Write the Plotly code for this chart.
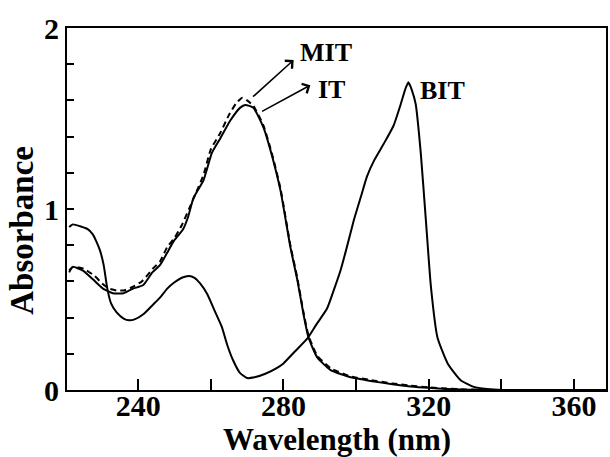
import plotly.graph_objects as go

# Wavelength (nm) / absorbance
wl_bit = [221, 222, 224, 226, 227.5, 228.5, 229.5, 230.5, 231.5, 232.5, 234, 236, 237.5, 239, 241.5, 244, 246, 248, 250, 252,
          254, 255.5, 257, 259, 261, 263, 264.5, 266, 268, 270, 272, 275, 278, 280, 283, 286.6, 289, 292, 294, 295.7,
          297.2, 299.4, 301.5, 303, 305, 307.6, 310.3, 312.3, 313.5, 314.4, 315.3, 316.4, 317.8, 319.2, 320.6, 322.4,
          325.2, 328.8, 332.4, 336, 340, 369]
a_bit = [0.90, 0.915, 0.905, 0.89, 0.86, 0.82, 0.77, 0.69, 0.56, 0.48, 0.43, 0.395, 0.385, 0.39, 0.42, 0.47, 0.51, 0.56, 0.595, 0.62,
         0.63, 0.62, 0.59, 0.53, 0.44, 0.35, 0.25, 0.17, 0.095, 0.066, 0.07, 0.09, 0.12, 0.147, 0.21, 0.285, 0.36, 0.45, 0.56, 0.66,
         0.77, 0.94, 1.08, 1.18, 1.27, 1.36, 1.46, 1.58, 1.66, 1.70, 1.66, 1.58, 1.31, 0.94, 0.57, 0.29,
         0.147, 0.054, 0.017, 0.005, 0.0, 0.0]

wl_it = [221, 222, 224.8, 227.6, 230.3, 233, 236, 238.6, 241.4, 243.9, 246, 248.3, 249.7, 252.4, 253.8, 255.2, 258, 260.3, 262.6, 265.4,
         268.1, 269.5, 271.7, 274.5, 276.9, 279.2, 281.9, 283.8, 285.5, 286.9, 289.3, 293, 298.5, 304, 310, 315, 320, 325, 330, 340, 369]
a_it = [0.65, 0.68, 0.66, 0.61, 0.56, 0.535, 0.535, 0.56, 0.58, 0.65, 0.69, 0.77, 0.82, 0.89, 0.96, 1.06, 1.16, 1.31, 1.39, 1.49,
        1.56, 1.575, 1.56, 1.45, 1.29, 1.10, 0.79, 0.61, 0.42, 0.29, 0.18, 0.11, 0.07, 0.05, 0.032, 0.02, 0.012, 0.006, 0.002, 0.0, 0.0]

wl_mit = [221, 222, 225, 228, 230, 232, 234, 236, 238, 241, 244, 246, 248, 250, 252, 254, 255.5, 258, 260, 262.6,
          265, 267, 268.7, 270, 271.7, 274.5, 276.9, 279.2, 281.9, 283.8, 285.5, 286.9, 289.3, 293, 298.5, 304, 310, 315, 320, 325,
          330, 340, 369]
a_mit = [0.66, 0.68, 0.67, 0.63, 0.59, 0.56, 0.55, 0.55, 0.565, 0.60, 0.67, 0.71, 0.79, 0.84, 0.91, 1.00, 1.07, 1.19, 1.33, 1.42,
         1.52, 1.585, 1.615, 1.60, 1.57, 1.46, 1.30, 1.11, 0.80, 0.62, 0.43, 0.30, 0.19, 0.12, 0.075, 0.055, 0.036, 0.024, 0.015, 0.008,
         0.003, 0.0, 0.0]

x_tickvals = [240, 260, 280, 300, 320, 340, 360]
x_ticktext = ["240", "", "280", "", "320", "", "360"]
y_tickvals = [0, 0.2, 0.4, 0.6, 0.8, 1.0, 1.2, 1.4, 1.6, 1.8, 2.0]
y_ticktext = ["0", "", "", "", "", "1", "", "", "", "", "2"]

FONT = "Liberation Serif, Times New Roman, Times, serif"

fig = go.Figure()
line_kw = dict(color="black", width=2, shape="spline", smoothing=0.5)
fig.add_trace(go.Scatter(x=wl_bit, y=a_bit, mode="lines", line=line_kw, name="BIT"))
fig.add_trace(go.Scatter(x=wl_mit, y=a_mit, mode="lines", line=dict(line_kw, dash="6px,4px"), name="MIT"))
fig.add_trace(go.Scatter(x=wl_it, y=a_it, mode="lines", line=line_kw, name="IT"))

# arrows
fig.add_annotation(x=282.8, y=1.823, ax=271.2, ay=1.613, axref="x", ayref="y", xref="x", yref="y",
                   text="", showarrow=True, arrowhead=4, arrowsize=1.3, arrowwidth=1.6, arrowcolor="black")
fig.add_annotation(x=287.4, y=1.684, ax=273.7, ay=1.535, axref="x", ayref="y", xref="x", yref="y",
                   text="", showarrow=True, arrowhead=4, arrowsize=1.3, arrowwidth=1.6, arrowcolor="black")
lab_font = dict(family=FONT, size=26, color="black", weight="bold")
fig.add_annotation(x=291.6, y=1.865, text="MIT", showarrow=False, font=lab_font)
fig.add_annotation(x=293.2, y=1.66, text="IT", showarrow=False, font=lab_font)
fig.add_annotation(x=323.9, y=1.657, text="BIT", showarrow=False, font=lab_font)

# axis titles
title_font = dict(family=FONT, size=31, color="black", weight="bold")
fig.add_annotation(x=0.5, y=0, xref="paper", yref="paper", yshift=-30, yanchor="top",
                   text="Wavelength (nm)", showarrow=False, font=title_font)
fig.add_annotation(x=0, y=0.44, xref="paper", yref="paper", xshift=-45, xanchor="center", yanchor="middle",
                   text="Absorbance", showarrow=False, textangle=-90, font=dict(title_font, size=33))

fig.update_layout(
    width=610, height=457,
    margin=dict(l=67, r=4, t=28, b=67, autoexpand=False),
    paper_bgcolor="white", plot_bgcolor="white",
    showlegend=False,
    xaxis=dict(range=[220.4, 368.8], tickvals=x_tickvals, ticktext=x_ticktext,
               ticks="inside", ticklen=11, tickwidth=1.5, tickcolor="black",
               showline=True, linecolor="black", linewidth=2, mirror=True,
               showgrid=False, zeroline=False, automargin=False, ticklabelstandoff=-12,
               tickfont=dict(family=FONT, size=30, color="black", weight="bold")),
    yaxis=dict(range=[0, 2], tickvals=y_tickvals, ticktext=y_ticktext,
               ticks="inside", ticklen=7, tickwidth=1.5, tickcolor="black",
               showline=True, linecolor="black", linewidth=2, mirror=True,
               showgrid=False, zeroline=False, automargin=False,
               tickfont=dict(family=FONT, size=30, color="black", weight="bold")),
)
fig.write_html("out.html", config={"displayModeBar": False},
               post_script="document.body.style.margin='0px';document.body.style.padding='0px';")
